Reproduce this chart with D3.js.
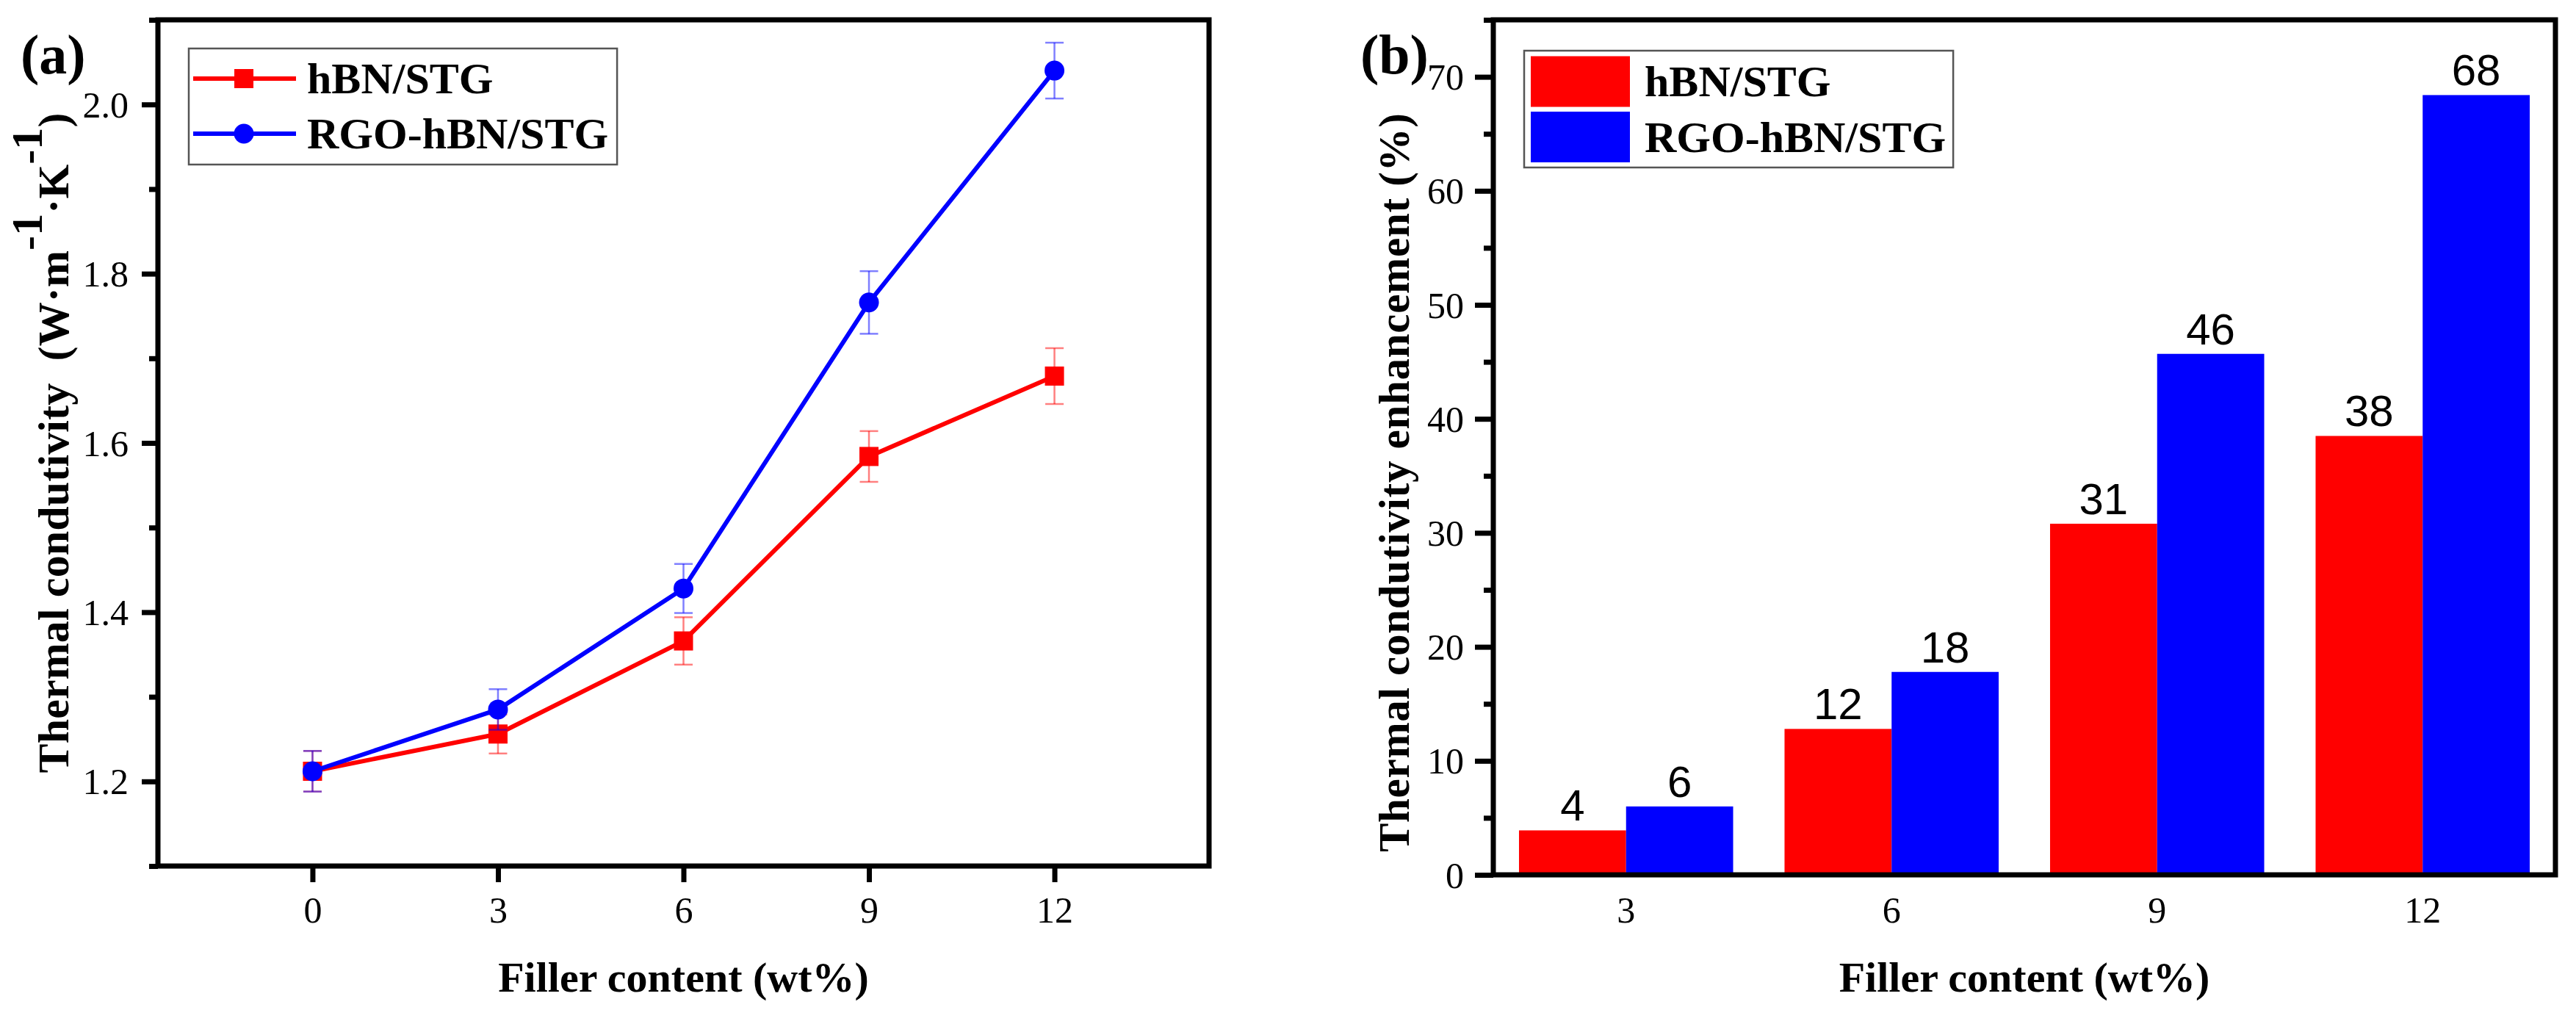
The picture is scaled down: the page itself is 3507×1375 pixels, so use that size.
<!DOCTYPE html>
<html><head><meta charset="utf-8">
<script src="https://cdn.jsdelivr.net/npm/d3@7"></script>
<style>body{margin:0;background:#fff}svg{display:block}</style>
</head><body>
<svg id="chart" width="3507" height="1375"></svg>
<script>
// ---------- data ----------
const fillerA = [0, 3, 6, 9, 12];
const hbnK   = [1.212, 1.256, 1.366, 1.584, 1.679];
const hbnErr = [0.024, 0.023, 0.028, 0.030, 0.033];
const rgoK   = [1.212, 1.285, 1.428, 1.766, 2.040];
const rgoErr = [0.024, 0.024, 0.029, 0.037, 0.033];
const yTicksA = [1.2, 1.4, 1.6, 1.8, 2.0];
const yMinorA = [1.1, 1.3, 1.5, 1.7, 1.9, 2.1];
const xTicksA = [0, 3, 6, 9, 12];

const fillerB = ["3", "6", "9", "12"];
const hbnEnh = [3.9, 12.8, 30.8, 38.5];
const rgoEnh = [6.0, 17.8, 45.7, 68.4];
const hbnLbl = ["4", "12", "31", "38"];
const rgoLbl = ["6", "18", "46", "68"];
const yTicksB = [0, 10, 20, 30, 40, 50, 60, 70];
const yMinorB = [5, 15, 25, 35, 45, 55, 65, 75];

const seriesNames = ["hBN/STG", "RGO-hBN/STG"];
const colors = ["#ff0000", "#0000ff"];
const errColors = ["rgba(255,0,0,0.5)", "rgba(0,0,255,0.5)"];

// ---------- setup ----------
const SERIF = "'Liberation Serif','Times New Roman',serif";
const SANS = "'Liberation Sans',Arial,sans-serif";
const svg = d3.select("#chart");
svg.append("rect").attr("width", 3507).attr("height", 1375).attr("fill", "#fff");

function styleAxis(g, fs) {
  g.select(".domain").remove();
  g.selectAll(".tick line").attr("stroke", "#000").attr("stroke-width", 7);
  g.selectAll(".tick text").attr("font-family", SERIF).attr("font-size", fs).attr("fill", "#000");
}

// ================= Panel (a) =================
const A = {l: 215, r: 1646, t: 27, b: 1179};
const xA = d3.scaleLinear().domain([-2.5, 14.5]).range([A.l, A.r]);
const yA = d3.scaleLinear().domain([1.1, 2.1]).range([A.b, A.t]);
const gA = svg.append("g");

gA.append("g").attr("transform", `translate(${A.l},0)`)
  .call(d3.axisLeft(yA).tickValues(yMinorA).tickSize(12).tickFormat(""))
  .call(g => styleAxis(g, 50));
gA.append("g").attr("transform", `translate(${A.l},0)`)
  .call(d3.axisLeft(yA).tickValues(yTicksA).tickSize(22).tickPadding(18).tickFormat(d3.format(".1f")))
  .call(g => styleAxis(g, 50))
  .call(g => g.selectAll(".tick text").attr("dy", "0.34em"));
gA.append("g").attr("transform", `translate(0,${A.b})`)
  .call(d3.axisBottom(xA).tickValues(xTicksA).tickSize(22).tickPadding(19))
  .call(g => styleAxis(g, 50));

const seriesA = [
  {vals: hbnK, err: hbnErr, c: 0, shape: "square"},
  {vals: rgoK, err: rgoErr, c: 1, shape: "circle"}
];
const lineA = d3.line().x((d, i) => xA(fillerA[i])).y(d => yA(d));
seriesA.forEach(s => {
  const g = gA.append("g");
  g.append("path").attr("d", lineA(s.vals)).attr("fill", "none")
    .attr("stroke", colors[s.c]).attr("stroke-width", 6).attr("stroke-linejoin", "round");
  s.vals.forEach((v, i) => {
    const cx = xA(fillerA[i]);
    const eg = g.append("g").attr("stroke", errColors[s.c]).attr("stroke-width", 2.5);
    eg.append("line").attr("x1", cx).attr("x2", cx).attr("y1", yA(v - s.err[i])).attr("y2", yA(v + s.err[i]));
    eg.append("line").attr("x1", cx - 12.5).attr("x2", cx + 12.5).attr("y1", yA(v + s.err[i])).attr("y2", yA(v + s.err[i]));
    eg.append("line").attr("x1", cx - 12.5).attr("x2", cx + 12.5).attr("y1", yA(v - s.err[i])).attr("y2", yA(v - s.err[i]));
  });
  s.vals.forEach((v, i) => {
    const cx = xA(fillerA[i]), cy = yA(v);
    if (s.shape === "square")
      g.append("rect").attr("x", cx - 13).attr("y", cy - 13).attr("width", 26).attr("height", 26).attr("fill", colors[s.c]);
    else
      g.append("circle").attr("cx", cx).attr("cy", cy).attr("r", 13.5).attr("fill", colors[s.c]);
  });
});

gA.append("rect").attr("x", A.l).attr("y", A.t).attr("width", A.r - A.l).attr("height", A.b - A.t)
  .attr("fill", "none").attr("stroke", "#000").attr("stroke-width", 7);

// legend (a)
const legA = gA.append("g");
const legABox = legA.append("rect").attr("x", 257).attr("y", 66).attr("height", 158)
  .attr("fill", "#fff").attr("stroke", "#555").attr("stroke-width", 2.5);
let maxA = 0;
seriesNames.forEach((name, i) => {
  const cy = 107 + i * 75;
  legA.append("line").attr("x1", 263).attr("x2", 403).attr("y1", cy).attr("y2", cy)
    .attr("stroke", colors[i]).attr("stroke-width", 6);
  if (i === 0) legA.append("rect").attr("x", 332 - 13).attr("y", cy - 13).attr("width", 26).attr("height", 26).attr("fill", colors[i]);
  else legA.append("circle").attr("cx", 332).attr("cy", cy).attr("r", 13.5).attr("fill", colors[i]);
  const t = legA.append("text").attr("x", 418).attr("y", cy + 20).attr("font-family", SERIF)
    .attr("font-weight", "bold").attr("font-size", 60).text(name);
  maxA = Math.max(maxA, t.node().getComputedTextLength());
});
legABox.attr("width", 418 + maxA + 12 - 257);

// titles (a)
const ytA = gA.append("text").attr("transform", `translate(93,603) rotate(-90)`)
  .attr("text-anchor", "middle").attr("font-family", SERIF).attr("font-weight", "bold")
  .attr("font-size", 60).style("white-space", "pre");
ytA.append("tspan").text("Thermal condutivity  (W·m");
ytA.append("tspan").attr("dy", "-0.6em").text("-1");
ytA.append("tspan").attr("dy", "0.6em").text("·K");
ytA.append("tspan").attr("dy", "-0.6em").text("-1");
ytA.append("tspan").attr("dy", "0.6em").text(")");
ytA.attr("textLength", 899).attr("lengthAdjust", "spacing");

gA.append("text").attr("x", (A.l + A.r) / 2).attr("y", 1350).attr("text-anchor", "middle")
  .attr("font-family", SERIF).attr("font-weight", "bold").attr("font-size", 58).text("Filler content (wt%)");
gA.append("text").attr("x", 28).attr("y", 100).attr("font-family", SERIF)
  .attr("font-weight", "bold").attr("font-size", 76).text("(a)");

// ================= Panel (b) =================
const B = {l: 2033, r: 3479, t: 27, b: 1191};
const xB = d3.scaleBand().domain(fillerB).range([B.l, B.r]).padding(0);
const xSub = d3.scaleBand().domain(seriesNames).range([0, xB.bandwidth()]).paddingInner(0).paddingOuter(0.24);
const yB = d3.scaleLinear().domain([0, 75]).range([B.b, B.t]);
const gB = svg.append("g");

const enh = [hbnEnh, rgoEnh];
const lbls = [hbnLbl, rgoLbl];
seriesNames.forEach((name, s) => {
  const g = gB.append("g");
  fillerB.forEach((cat, i) => {
    const x0 = xB(cat) + xSub(name);
    g.append("rect").attr("x", x0).attr("y", yB(enh[s][i])).attr("width", xSub.bandwidth())
      .attr("height", yB(0) - yB(enh[s][i])).attr("fill", colors[s]);
    g.append("text").attr("x", x0 + xSub.bandwidth() / 2).attr("y", yB(enh[s][i]) - 13)
      .attr("text-anchor", "middle").attr("font-family", SANS).attr("font-size", 60).attr("fill", "#000")
      .text(lbls[s][i]);
  });
});

gB.append("g").attr("transform", `translate(${B.l},0)`)
  .call(d3.axisLeft(yB).tickValues(yMinorB).tickSize(13).tickFormat(""))
  .call(g => styleAxis(g, 50));
gB.append("g").attr("transform", `translate(${B.l},0)`)
  .call(d3.axisLeft(yB).tickValues(yTicksB).tickSize(25).tickPadding(15))
  .call(g => styleAxis(g, 50))
  .call(g => g.selectAll(".tick text").attr("dy", "0.34em"));
gB.append("g").attr("transform", `translate(0,${B.b})`)
  .call(d3.axisBottom(xB).tickSize(0).tickPadding(29))
  .call(g => styleAxis(g, 50));

gB.append("rect").attr("x", B.l).attr("y", B.t).attr("width", B.r - B.l).attr("height", B.b - B.t)
  .attr("fill", "none").attr("stroke", "#000").attr("stroke-width", 7);

// legend (b)
const legB = gB.append("g");
const legBBox = legB.append("rect").attr("x", 2075).attr("y", 69).attr("height", 159)
  .attr("fill", "#fff").attr("stroke", "#555").attr("stroke-width", 2.5);
let maxB = 0;
seriesNames.forEach((name, i) => {
  const top = 76.5 + i * 75.5;
  legB.append("rect").attr("x", 2084).attr("y", top).attr("width", 135).attr("height", 69).attr("fill", colors[i]);
  const t = legB.append("text").attr("x", 2239).attr("y", top + 34.5 + 20).attr("font-family", SERIF)
    .attr("font-weight", "bold").attr("font-size", 60).text(name);
  maxB = Math.max(maxB, t.node().getComputedTextLength());
});
legBBox.attr("width", 2239 + maxB + 10 - 2075);

// titles (b)
gB.append("text").attr("transform", `translate(1918,657) rotate(-90)`)
  .attr("text-anchor", "middle").attr("font-family", SERIF).attr("font-weight", "bold")
  .attr("font-size", 59).attr("textLength", 1006).attr("lengthAdjust", "spacing")
  .text("Thermal condutivity enhancement (%)");
gB.append("text").attr("x", (B.l + B.r) / 2).attr("y", 1350).attr("text-anchor", "middle")
  .attr("font-family", SERIF).attr("font-weight", "bold").attr("font-size", 58).text("Filler content (wt%)");
gB.append("text").attr("x", 1852).attr("y", 100).attr("font-family", SERIF)
  .attr("font-weight", "bold").attr("font-size", 76).text("(b)");
</script>
</body></html>
